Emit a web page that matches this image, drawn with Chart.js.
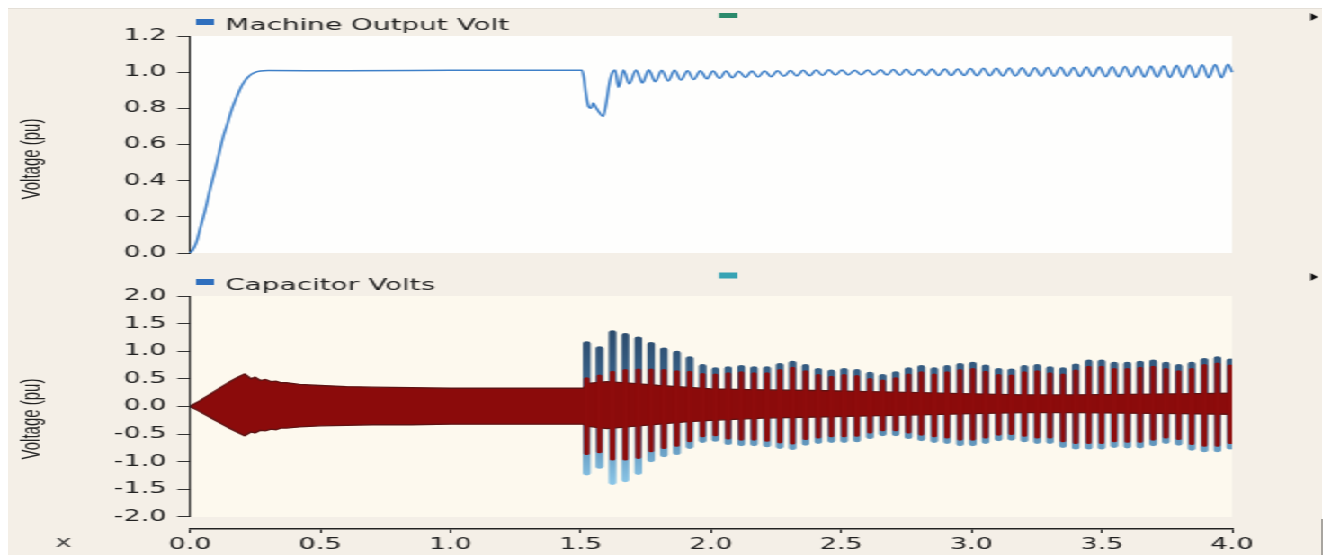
<!DOCTYPE html>
<html>
<head>
<meta charset="utf-8">
<title>Machine Output Volt / Capacitor Volts</title>
<script src="https://cdn.jsdelivr.net/npm/chart.js@4.4.1/dist/chart.umd.min.js"></script>
<style>
  html, body { margin: 0; padding: 0; background: #ffffff; width: 1331px; height: 555px; overflow: hidden; }
  #panel { position: absolute; left: 8px; top: 8px; width: 1314px; height: 547px; background: #f4efe7; border-top: 1px solid #e4dfd7; }
  #edge { position: absolute; left: 1321px; top: 519px; width: 2px; height: 36px; background: #a8a5a0; }
  /* plots are laid out on a 740px-wide canvas and widened to the page */
  #stretch { position: absolute; left: 0; top: 0; width: 740px; height: 555px; transform: scaleX(1.79865); transform-origin: 0 0; }
  #stretch canvas { position: absolute; left: 0; }
</style>
</head>
<body>
<div id="panel"></div>
<div id="edge"></div>
<div id="stretch">
  <canvas id="upper" width="740" height="268" style="top:0px"></canvas>
  <canvas id="lower" width="740" height="287" style="top:268px"></canvas>
</div>
<script>
// ---- axes ----
const timeTicks = [0.0, 0.5, 1.0, 1.5, 2.0, 2.5, 3.0, 3.5, 4.0];
const upperTicks = [0.0, 0.2, 0.4, 0.6, 0.8, 1.0, 1.2];
const lowerTicks = [-2.0, -1.5, -1.0, -0.5, 0.0, 0.5, 1.0, 1.5, 2.0];

// ---- machine terminal voltage (pu): [time s, value] ----
const machineOutputVolt = [
  [0, 0], [0.01, 0.015], [0.025, 0.06], [0.04, 0.14], [0.059, 0.24], [0.075, 0.34],
  [0.093, 0.44], [0.11, 0.54], [0.127, 0.64], [0.145, 0.72], [0.162, 0.80], [0.18, 0.865],
  [0.196, 0.917], [0.21, 0.95], [0.222, 0.971], [0.235, 0.988], [0.248, 0.998], [0.27, 1.006],
  [0.30, 1.009], [0.6, 1.008], [1.0, 1.010], [1.3, 1.011], [1.505, 1.011],
  [1.512, 0.97], [1.52, 0.88], [1.53, 0.81], [1.54, 0.80], [1.548, 0.83], [1.556, 0.81],
  [1.57, 0.78], [1.586, 0.755], [1.598, 0.83], [1.61, 0.94], [1.622, 1.00], [1.632, 1.012],
  [1.645, 0.915], [1.664, 1.012], [1.686, 0.935],
  [1.712, 1.012], [1.737, 0.940], [1.761, 1.013], [1.786, 0.947], [1.811, 1.011], [1.836, 0.951],
  [1.860, 1.010], [1.885, 0.956], [1.910, 1.008], [1.934, 0.959], [1.959, 1.008], [1.984, 0.963],
  [2.008, 1.006], [2.033, 0.966], [2.058, 1.006], [2.082, 0.969], [2.107, 1.005], [2.132, 0.971],
  [2.157, 1.006], [2.181, 0.973], [2.206, 1.006], [2.231, 0.975], [2.255, 1.008], [2.280, 0.977],
  [2.305, 1.009], [2.329, 0.979], [2.354, 1.010], [2.379, 0.980], [2.404, 1.012], [2.428, 0.982],
  [2.453, 1.013], [2.478, 0.984], [2.502, 1.012], [2.527, 0.985], [2.552, 1.011], [2.576, 0.986],
  [2.601, 1.012], [2.626, 0.985], [2.651, 1.014], [2.675, 0.984], [2.700, 1.015], [2.725, 0.983],
  [2.749, 1.016], [2.774, 0.983], [2.799, 1.015], [2.823, 0.982], [2.848, 1.017], [2.873, 0.982],
  [2.898, 1.018], [2.922, 0.981], [2.947, 1.018], [2.972, 0.981], [2.996, 1.020], [3.021, 0.980],
  [3.046, 1.021], [3.070, 0.980], [3.095, 1.022], [3.120, 0.979], [3.145, 1.023], [3.169, 0.979],
  [3.194, 1.024], [3.219, 0.978], [3.243, 1.024], [3.268, 0.978], [3.293, 1.026], [3.317, 0.977],
  [3.342, 1.027], [3.367, 0.977], [3.392, 1.026], [3.416, 0.976], [3.441, 1.028], [3.466, 0.976],
  [3.490, 1.029], [3.515, 0.975], [3.540, 1.030], [3.564, 0.974], [3.589, 1.031], [3.614, 0.974],
  [3.639, 1.033], [3.663, 0.973], [3.688, 1.034], [3.713, 0.972], [3.737, 1.036], [3.762, 0.971],
  [3.787, 1.038], [3.811, 0.971], [3.836, 1.040], [3.861, 0.970], [3.886, 1.041], [3.910, 0.969],
  [3.935, 1.043], [3.960, 0.969], [3.984, 1.044], [4.000, 1.000]
];

// ---- capacitor voltage: steady carrier band envelope (pu) ----
const bandTimes = [0, 0.03, 0.06, 0.09, 0.12, 0.15, 0.18, 0.21, 0.235, 0.25, 0.27, 0.29, 0.31, 0.33,
  0.35, 0.37, 0.42, 0.5, 0.6, 0.7, 0.85, 1.0, 1.2, 1.4, 1.51, 1.53, 1.6, 1.7, 1.8, 1.9, 2.0, 2.2,
  2.4, 2.6, 2.8, 3.0, 3.2, 3.4, 3.6, 3.8, 4.0];
const bandHigh = [0, 0.08, 0.17, 0.26, 0.35, 0.44, 0.52, 0.59, 0.50, 0.53, 0.47, 0.49, 0.45, 0.46,
  0.43, 0.43, 0.40, 0.38, 0.36, 0.35, 0.34, 0.33, 0.33, 0.33, 0.33, 0.42, 0.45, 0.42, 0.38, 0.35, 0.32, 0.30,
  0.29, 0.27, 0.25, 0.23, 0.21, 0.21, 0.22, 0.23, 0.24];
const bandLow = [0, -0.07, -0.15, -0.23, -0.31, -0.39, -0.46, -0.53, -0.46, -0.48, -0.43, -0.44, -0.41, -0.42,
  -0.39, -0.39, -0.37, -0.35, -0.34, -0.33, -0.33, -0.32, -0.32, -0.32, -0.32, -0.36, -0.40, -0.36, -0.32, -0.28, -0.25, -0.21,
  -0.19, -0.17, -0.15, -0.13, -0.11, -0.11, -0.12, -0.13, -0.14];

// ---- capacitor voltage: beat peaks after the disturbance (pu) ----
const lobeTimes = [1.523, 1.572, 1.622, 1.671, 1.721, 1.770, 1.819, 1.869, 1.918, 1.968,
  2.017, 2.066, 2.116, 2.165, 2.215, 2.264, 2.313, 2.363, 2.412, 2.462,
  2.511, 2.560, 2.610, 2.659, 2.709, 2.758, 2.807, 2.857, 2.906, 2.956,
  3.005, 3.054, 3.104, 3.153, 3.203, 3.252, 3.301, 3.351, 3.400, 3.450,
  3.499, 3.548, 3.598, 3.647, 3.697, 3.746, 3.795, 3.845, 3.894, 3.944, 3.993];
const blueHigh = [1.14, 1.05, 1.34, 1.29, 1.23, 1.13, 1.03, 0.97, 0.87, 0.73,
  0.67, 0.69, 0.71, 0.69, 0.69, 0.75, 0.79, 0.73, 0.66, 0.63,
  0.66, 0.64, 0.59, 0.55, 0.60, 0.67, 0.71, 0.67, 0.71, 0.75,
  0.77, 0.72, 0.66, 0.65, 0.71, 0.73, 0.69, 0.67, 0.74, 0.81,
  0.81, 0.77, 0.77, 0.79, 0.81, 0.77, 0.73, 0.77, 0.84, 0.87, 0.83];
const blueLow = [-1.21, -1.09, -1.38, -1.33, -1.20, -0.97, -0.88, -0.84, -0.73, -0.62,
  -0.60, -0.66, -0.68, -0.68, -0.70, -0.73, -0.75, -0.67, -0.64, -0.62,
  -0.62, -0.61, -0.55, -0.50, -0.50, -0.55, -0.59, -0.62, -0.64, -0.68,
  -0.68, -0.64, -0.59, -0.58, -0.61, -0.64, -0.64, -0.71, -0.74, -0.74,
  -0.74, -0.71, -0.72, -0.72, -0.68, -0.64, -0.67, -0.76, -0.79, -0.79, -0.74];
const redHigh = [0.50, 0.55, 0.62, 0.65, 0.66, 0.66, 0.65, 0.63, 0.62, 0.58,
  0.57, 0.59, 0.61, 0.59, 0.59, 0.65, 0.69, 0.63, 0.56, 0.53,
  0.56, 0.54, 0.49, 0.46, 0.50, 0.57, 0.61, 0.57, 0.61, 0.65,
  0.67, 0.62, 0.56, 0.55, 0.61, 0.63, 0.59, 0.57, 0.64, 0.71,
  0.71, 0.67, 0.67, 0.69, 0.71, 0.67, 0.63, 0.67, 0.74, 0.77, 0.73];
const redLow = [-0.85, -0.82, -0.95, -0.95, -0.92, -0.80, -0.74, -0.70, -0.62, -0.53,
  -0.51, -0.57, -0.59, -0.59, -0.61, -0.64, -0.66, -0.58, -0.55, -0.53,
  -0.53, -0.52, -0.46, -0.42, -0.42, -0.46, -0.50, -0.53, -0.55, -0.59,
  -0.59, -0.55, -0.50, -0.49, -0.52, -0.55, -0.55, -0.62, -0.65, -0.65,
  -0.65, -0.62, -0.63, -0.63, -0.59, -0.55, -0.58, -0.67, -0.70, -0.70, -0.65];

// ---- shared styling ----
Chart.defaults.font.family = '"DejaVu Sans", Verdana, sans-serif';
Chart.defaults.color = '#222';
const TICK_FONT = { family: '"DejaVu Sans", Verdana, sans-serif', size: 15 };
const AXIS_WIDTH = 105.6;
const fmt = v => Number(v).toFixed(1);
const fixedTicks = list => s => { s.ticks = list.map(v => ({ value: v })); };

// one vertical stroke per beat peak, broken between peaks
function peakStrokes(high, low) {
  const pts = [];
  lobeTimes.forEach((t, i) => {
    pts.push({ x: t, y: high[i] }, { x: t, y: low[i] }, { x: t, y: null });
  });
  return pts;
}

// plot backgrounds, legend entries, graph markers and axis titles
const framePlugin = {
  id: 'frame',
  beforeDraw(chart, args, o) {
    const { ctx, chartArea: a, scales: { y } } = chart;
    const t = y.getPixelForValue(o.plotTop), b = y.getPixelForValue(o.plotBottom);
    ctx.save();
    ctx.fillStyle = o.plotColor;
    ctx.fillRect(a.left, t, a.right - a.left, b - t);
    ctx.restore();
  },
  afterDraw(chart, args, o) {
    const { ctx, chartArea: a, scales: { y } } = chart;
    ctx.save();
    if (o.axisLine) {
      ctx.strokeStyle = '#222';
      ctx.lineWidth = 1;
      ctx.beginPath();
      ctx.moveTo(a.left, y.getPixelForValue(o.plotTop));
      ctx.lineTo(a.left, y.getPixelForValue(o.plotBottom));
      ctx.stroke();
    }
    const ds = chart.data.datasets[o.legendIndex];
    ctx.fillStyle = o.legendColor;
    ctx.fillRect(109, o.legendY, 10, 6);
    ctx.fillStyle = '#222';
    ctx.font = '15.5px "DejaVu Sans", Verdana, sans-serif';
    ctx.textAlign = 'left';
    ctx.textBaseline = 'alphabetic';
    ctx.fillText(ds.label, 125.3, o.legendBaseline);

    ctx.fillStyle = o.markerColor;
    ctx.fillRect(399.8, o.markerY, 10.2, o.markerH);

    ctx.fillStyle = '#111';
    ctx.beginPath();
    ctx.moveTo(728.6, o.arrowY);
    ctx.lineTo(732.8, o.arrowY + 4);
    ctx.lineTo(728.6, o.arrowY + 8);
    ctx.closePath();
    ctx.fill();

    if (o.xLabel) {
      ctx.fillStyle = '#444';
      ctx.font = '15.5px "DejaVu Sans", Verdana, sans-serif';
      ctx.textAlign = 'center';
      ctx.textBaseline = 'middle';
      ctx.fillText(o.xLabel, 35.3, o.xLabelY);
    }

    ctx.fillStyle = '#222';
    ctx.translate(17.8, o.titleY);
    ctx.rotate(-Math.PI / 2);
    ctx.font = '15px "Liberation Sans", Arial, sans-serif';
    ctx.textAlign = 'center';
    ctx.textBaseline = 'middle';
    ctx.fillText(o.title, 0, 0);
    ctx.restore();
  }
};

// ---- upper graph: machine output voltage ----
new Chart(document.getElementById('upper'), {
  type: 'line',
  data: {
    datasets: [{
      label: 'Machine Output Volt',
      data: machineOutputVolt.map(([t, v]) => ({ x: t, y: v })),
      borderColor: '#3f80c8',
      borderWidth: 1.5,
      pointRadius: 0,
      cubicInterpolationMode: 'monotone',
      fill: false,
      clip: 6
    }]
  },
  options: {
    responsive: false,
    maintainAspectRatio: false,
    animation: false,
    devicePixelRatio: 1,
    events: [],
    layout: { padding: { top: 36, right: 55, bottom: 10, left: 0 } },
    plugins: {
      legend: { display: false },
      tooltip: { enabled: false },
      frame: {
        plotTop: 1.2, plotBottom: 0, plotColor: '#fefefd', axisLine: false,
        legendIndex: 0, legendColor: '#2f6fbe', legendY: 19, legendBaseline: 30,
        markerColor: '#2b8a6c', markerY: 13, markerH: 5, arrowY: 13,
        title: 'Voltage (pu)', titleY: 159
      }
    },
    scales: {
      x: { type: 'linear', min: timeTicks[0], max: timeTicks[timeTicks.length - 1], display: false },
      y: {
        type: 'linear', min: upperTicks[0], max: upperTicks[upperTicks.length - 1],
        afterFit: s => { s.width = AXIS_WIDTH; },
        afterBuildTicks: fixedTicks(upperTicks),
        ticks: { callback: fmt, font: TICK_FONT, color: '#222', padding: 6 },
        grid: { drawOnChartArea: false, drawTicks: true, tickLength: 7, color: '#333', lineWidth: 1 },
        border: { display: true, color: '#222', width: 1 }
      }
    }
  },
  plugins: [framePlugin]
});

// ---- lower graph: capacitor voltages ----
const blueStroke = (c) => {
  const ch = c.chart, ys = ch.scales && ch.scales.y;
  if (!ch.chartArea || !ys) return '#4f7ea6';
  const g = ch.ctx.createLinearGradient(0, ys.getPixelForValue(1.4), 0, ys.getPixelForValue(-1.4));
  g.addColorStop(0, '#2b4a6c');
  g.addColorStop(0.5, '#3f6d96');
  g.addColorStop(1, '#8ac6e8');
  return g;
};

new Chart(document.getElementById('lower'), {
  type: 'line',
  data: {
    datasets: [
      {
        label: 'Capacitor Volts B',
        data: peakStrokes(redHigh, redLow),
        borderColor: '#8e0c0c',
        borderWidth: 3.1,
        borderCapStyle: 'round',
        pointRadius: 0,
        spanGaps: false,
        fill: false,
        order: 1
      },
      {
        label: 'Capacitor Volts B upper',
        data: bandTimes.map((t, i) => ({ x: t, y: bandHigh[i] })),
        borderColor: '#5e1414',
        borderWidth: 1.3,
        pointRadius: 0,
        fill: false,
        order: 2
      },
      {
        label: 'Capacitor Volts B lower',
        data: bandTimes.map((t, i) => ({ x: t, y: bandLow[i] })),
        borderColor: '#5e1414',
        borderWidth: 1.3,
        backgroundColor: '#8b0b0b',
        pointRadius: 0,
        fill: '-1',
        order: 2
      },
      {
        label: 'Capacitor Volts',
        data: peakStrokes(blueHigh, blueLow),
        borderColor: blueStroke,
        borderWidth: 4.3,
        borderCapStyle: 'round',
        pointRadius: 0,
        spanGaps: false,
        fill: false,
        order: 3
      }
    ]
  },
  options: {
    responsive: false,
    maintainAspectRatio: false,
    animation: false,
    devicePixelRatio: 1,
    events: [],
    layout: { padding: { top: 28, right: 55, bottom: 0, left: 0 } },
    plugins: {
      legend: { display: false },
      tooltip: { enabled: false },
      filler: { propagate: false },
      frame: {
        plotTop: 2.0, plotBottom: -2.0, plotColor: '#fdf9ee', axisLine: true,
        legendIndex: 3, legendColor: '#2f6fbe', legendY: 11, legendBaseline: 22,
        markerColor: '#37a3b4', markerY: 4.5, markerH: 6, arrowY: 5,
        title: 'Voltage (pu)', titleY: 151,
        xLabel: 'x', xLabelY: 275
      }
    },
    scales: {
      x: {
        type: 'linear', min: timeTicks[0], max: timeTicks[timeTicks.length - 1],
        afterFit: s => { s.height = 26; },
        afterBuildTicks: fixedTicks(timeTicks),
        ticks: { callback: fmt, font: TICK_FONT, color: '#222', padding: 3, maxRotation: 0, autoSkip: false },
        grid: { drawOnChartArea: false, drawTicks: true, tickLength: 4, color: '#222', lineWidth: 1 },
        border: { display: true, color: '#222', width: 1.5 }
      },
      y: {
        // the range runs a little below -2.0 so the time axis sits clear of the plot
        type: 'linear', min: -2.2172, max: lowerTicks[lowerTicks.length - 1],
        afterFit: s => { s.width = AXIS_WIDTH; },
        afterBuildTicks: fixedTicks(lowerTicks),
        ticks: { callback: fmt, font: TICK_FONT, color: '#222', padding: 6 },
        grid: { drawOnChartArea: false, drawTicks: true, tickLength: 7, color: '#333', lineWidth: 1 },
        border: { display: false }
      }
    }
  },
  plugins: [framePlugin]
});
</script>
</body>
</html>
